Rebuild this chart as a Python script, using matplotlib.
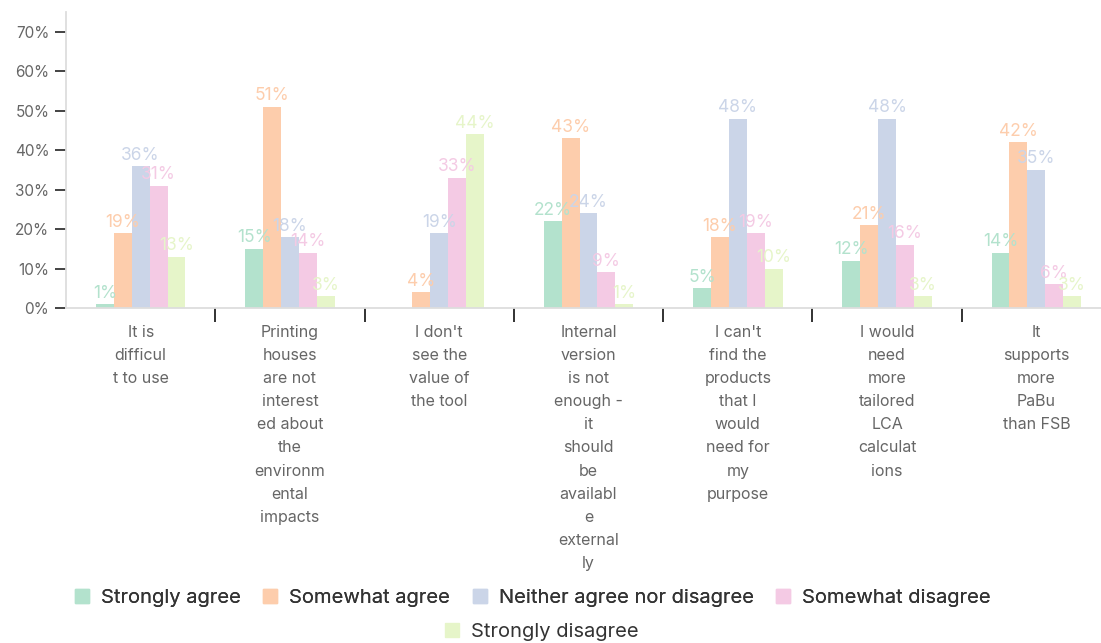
import numpy as np
import matplotlib
matplotlib.use("Agg")
import matplotlib.pyplot as plt
from matplotlib.patches import Patch

plt.rcParams['font.family'] = ['Inter', 'DejaVu Sans']

categories = [
    "It is\ndifficul\nt to use",
    "Printing\nhouses\nare not\ninterest\ned about\nthe\nenvironm\nental\nimpacts",
    "I don't\nsee the\nvalue of\nthe tool",
    "Internal\nversion\nis not\nenough -\nit\nshould\nbe\navailabl\ne\nexternal\nly",
    "I can't\nfind the\nproducts\nthat I\nwould\nneed for\nmy\npurpose",
    "I would\nneed\nmore\ntailored\nLCA\ncalculat\nions",
    "It\nsupports\nmore\nPaBu\nthan FSB",
]
series_names = ["Strongly agree", "Somewhat agree", "Neither agree nor disagree",
                "Somewhat disagree", "Strongly disagree"]
strongly_agree = [1, 15, 0, 22, 5, 12, 14]
somewhat_agree = [19, 51, 4, 43, 18, 21, 42]
neither = [36, 18, 19, 24, 48, 48, 35]
somewhat_disagree = [31, 14, 33, 9, 19, 16, 6]
strongly_disagree = [13, 3, 44, 1, 10, 3, 3]
series = [strongly_agree, somewhat_agree, neither, somewhat_disagree, strongly_disagree]
colors = ["#b3e2cd", "#fdcdac", "#cbd5e8", "#f4cae4", "#e6f5c9"]

fig = plt.figure(figsize=(11.01, 6.43), dpi=100)
ax = fig.add_axes([66 / 1101, 1 - 308 / 643, 1045 / 1101, 296 / 643])

x = np.arange(len(categories))
w = 0.12
for i, (vals, c) in enumerate(zip(series, colors)):
    pos = x + (i - 2) * w
    ax.bar(pos, vals, width=w, color=c, zorder=2)
    for p, v in zip(pos, vals):
        if v > 0:
            ax.text(p, v + 0.6, "%d%%" % v, ha='center', va='bottom',
                    color=c, fontsize=12.5)

ax.set_xlim(-0.5, len(categories) - 0.5)
ax.set_ylim(0, 75)
ax.set_yticks(np.arange(0, 71, 10))
ax.set_yticklabels(["%d%%" % t for t in range(0, 71, 10)], color="#666666", fontsize=11)
ax.tick_params(axis='y', length=8, width=1.2, color="#222222", pad=4)

ax.set_xticks(x)
ax.set_xticklabels(categories, color="#666666", fontsize=11.5, linespacing=1.68, va='top')
ax.tick_params(axis='x', which='major', length=0, pad=12)
ax.set_xticks(np.arange(0.5, len(categories) - 1, 1), minor=True)
ax.tick_params(axis='x', which='minor', length=10, width=1.3, color="#222222")

for s in ['top', 'right']:
    ax.spines[s].set_visible(False)
ax.spines['left'].set_color("#dddddd")
ax.spines['bottom'].set_color("#dddddd")
ax.spines['left'].set_linewidth(1.3)
ax.spines['bottom'].set_linewidth(1.3)

handles = [Patch(color=c, label=n) for c, n in zip(colors, series_names)]
leg1 = fig.legend(handles=handles[:4], loc='center', bbox_to_anchor=(0.484, 1 - 598 / 643),
                  ncol=4, frameon=False, fontsize=14.5, handlelength=0.7, handleheight=0.7,
                  handletextpad=0.6, columnspacing=1.1, labelcolor="#333333")
leg2 = fig.legend(handles=handles[4:], loc='center', bbox_to_anchor=(0.492, 1 - 632 / 643),
                  ncol=1, frameon=False, fontsize=14.5, handlelength=0.7, handleheight=0.7,
                  handletextpad=0.6, labelcolor="#333333")
fig.add_artist(leg1)

fig.savefig("out.png", dpi=100)
